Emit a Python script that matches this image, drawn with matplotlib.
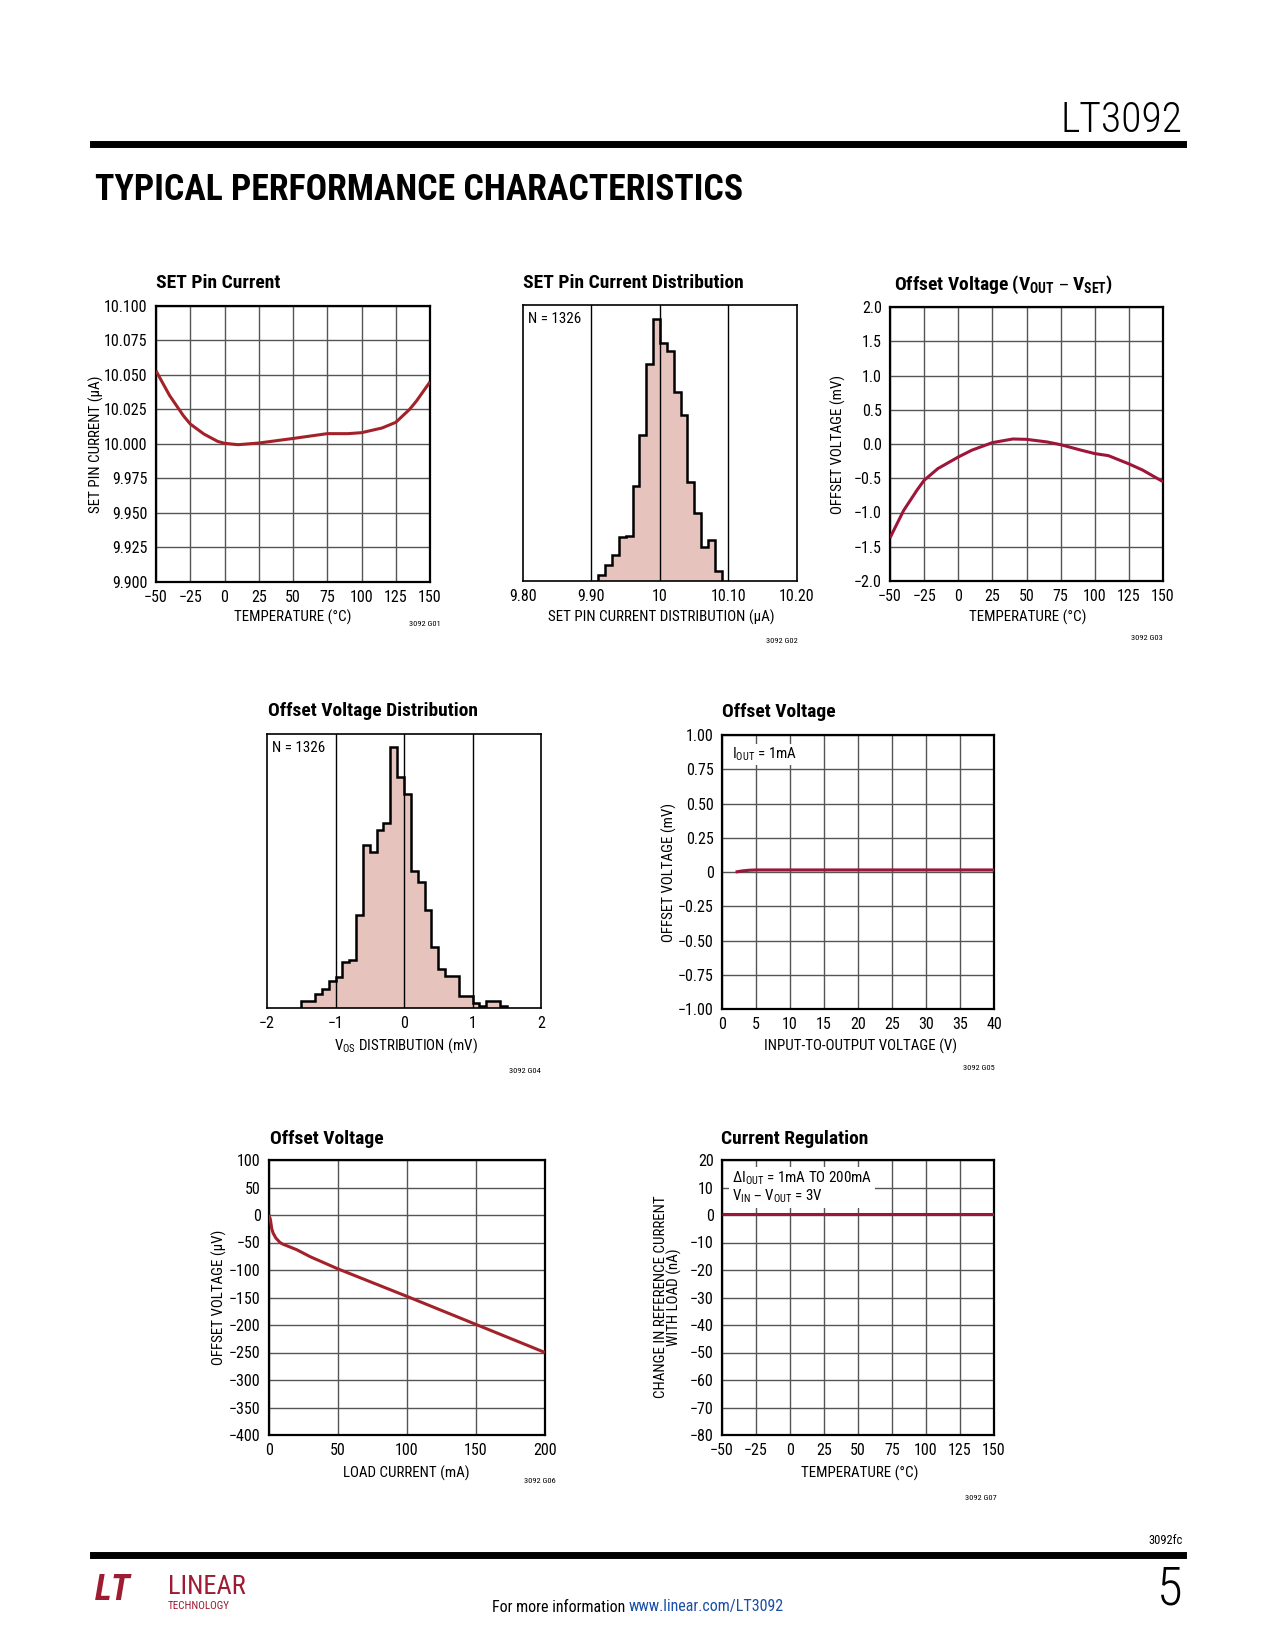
import numpy as np
import matplotlib
matplotlib.use('Agg')
import matplotlib.pyplot as plt
from matplotlib import font_manager

# the datasheet uses a condensed grotesque; take whichever narrow family is installed
installed = {f.name for f in font_manager.fontManager.ttflist}
narrow = [n for n in ['Liberation Sans Narrow', 'Roboto Condensed', 'DejaVu Sans Condensed',
                      'Noto Sans Condensed', 'Open Sans Condensed', 'Noto Sans Display Condensed']
          if n in installed]
SCALE = 1.0 if narrow else 0.88
plt.rcParams['font.family'] = narrow + ['Liberation Sans', 'DejaVu Sans']
plt.rcParams['mathtext.default'] = 'regular'

W, H = 1275, 1650

# ---- data ----
# G01 SET pin current vs temperature
g1_temp = [-50, -40, -30, -25, -15, -5, 0, 10, 25, 50, 75, 90, 100, 115, 125, 135, 140, 150]
g1_iset = [10.053, 10.035, 10.0205, 10.0145, 10.0072, 10.0019, 10.0005, 9.9995, 10.0007,
           10.004, 10.0075, 10.0075, 10.0082, 10.0116, 10.0157, 10.025, 10.031, 10.045]

# G02 SET pin current distribution (counts per 0.01uA bin)
g2_edges = [9.91, 9.92, 9.93, 9.94, 9.95, 9.96, 9.97, 9.98, 9.99, 10.00,
            10.01, 10.02, 10.03, 10.04, 10.05, 10.06, 10.07, 10.08, 10.09]
g2_counts = [4, 11, 18, 30, 31, 65, 100, 149, 180, 163, 158, 130, 114, 68, 47, 23, 28, 7]

# G03 offset voltage (VOUT - VSET) vs temperature
g3_temp = [-50, -40, -30, -25, -15, 0, 10, 25, 40, 50, 65, 75, 90, 100, 110, 125, 135, 150]
g3_vos = [-1.37, -0.97, -0.667, -0.53, -0.36, -0.19, -0.09, 0.02, 0.073, 0.068, 0.03,
          -0.01, -0.09, -0.14, -0.17, -0.29, -0.38, -0.55]

# G04 offset voltage distribution (counts per 0.1mV bin)
g4_edges = [-1.5, -1.4, -1.3, -1.2, -1.1, -1.0, -0.9, -0.8, -0.7, -0.6, -0.5, -0.4, -0.3,
            -0.2, -0.1, 0.0, 0.1, 0.2, 0.3, 0.4, 0.5, 0.6, 0.7, 0.8, 0.9, 1.0, 1.1, 1.2,
            1.3, 1.4, 1.5]
g4_counts = [4, 4, 8, 11, 16, 18, 27, 28, 55, 96, 92, 105, 109, 154, 136, 126, 81, 74, 58,
             36, 23, 19, 19, 7, 7, 3, 1, 4, 4, 1]

# G05 offset voltage vs input-to-output voltage
g5_vin = [2, 3, 4, 5, 10, 20, 30, 40]
g5_vos = [0.0, 0.008, 0.013, 0.015, 0.015, 0.015, 0.015, 0.015]

# G06 offset voltage vs load current
g6_load = [0, 1, 2, 3, 5, 8, 10, 15, 20, 30, 50, 100, 150, 200]
g6_vos = [0, -8, -25, -33, -42, -50, -53, -58, -63, -76, -98, -148, -199, -250]

# G07 change in reference current with load vs temperature
g7_temp = [-50, 0, 50, 100, 150]
g7_di = [0.5, 0.5, 0.5, 0.5, 0.5]

temp_ticks = [-50, -25, 0, 25, 50, 75, 100, 125, 150]

RED1 = '#a3222a'
RED2 = '#9d1538'
GRID = '#555555'
FILL = '#e6c3bd'

TICK = 11.5 * SCALE
LAB = 10.8 * SCALE
TTL = 14 * SCALE

fig = plt.figure(figsize=(W / 100, H / 100), dpi=100)


def box(l, t, r, b):
    return [l / W, 1 - b / H, (r - l) / W, (b - t) / H]


def ftext(x, y, s, **kw):
    return fig.text(x / W, 1 - y / H, s, **kw)


def line_chart(rect, x, y, color, xlim, xticks, ylim, yticks, ylabels=None):
    ax = fig.add_axes(box(*rect))
    ax.set_xlim(xlim)
    ax.set_ylim(ylim)
    ax.set_xticks(xticks)
    ax.set_yticks(yticks)
    if ylabels is not None:
        ax.set_yticklabels(ylabels)
    ax.grid(True, color=GRID, lw=1.0)
    ax.set_axisbelow(True)
    ax.tick_params(length=0, labelsize=TICK, pad=6)
    for s in ax.spines.values():
        s.set_linewidth(1.6)
    ax.plot(x, y, color=color, lw=2.2, solid_capstyle='butt', zorder=3)
    return ax


def hist_chart(rect, edges, counts, xlim, xticks, xlabels, vlines, ytop):
    ax = fig.add_axes(box(*rect))
    ax.stairs(counts, edges, fill=True, color=FILL, zorder=1)
    ax.stairs(counts, edges, color='black', lw=1.8, zorder=2)
    for v in vlines:
        ax.axvline(v, color='black', lw=1.0, zorder=3)
    ax.set_xlim(xlim)
    ax.set_ylim(0, ytop)
    ax.set_xticks(xticks)
    ax.set_xticklabels(xlabels)
    ax.set_yticks([])
    ax.tick_params(length=0, labelsize=TICK, pad=6)
    for s in ax.spines.values():
        s.set_linewidth(1.2)
    ax.text(0.02, 0.975, 'N = 1326', transform=ax.transAxes, ha='left', va='top',
            fontsize=LAB, zorder=4)
    return ax


# ---- G01 ----
ax1 = line_chart((156, 306, 430, 582), g1_temp, g1_iset, RED1, (-50, 150), temp_ticks,
                 (9.9, 10.1), np.arange(9.9, 10.1001, 0.025),
                 ['9.900', '9.925', '9.950', '9.975', '10.000', '10.025', '10.050', '10.075', '10.100'])
ftext(156, 283, 'SET Pin Current', fontsize=TTL, fontweight='bold', va='center')
ftext(293, 617, 'TEMPERATURE (°C)', fontsize=LAB, ha='center', va='center')
ftext(96, 444, 'SET PIN CURRENT (μA)', fontsize=LAB, ha='center', va='center', rotation=90)
ftext(425, 624, '3092 G01', fontsize=6, ha='center', va='center')

# ---- G02 ----
ax2 = hist_chart((523, 305, 797, 581), g2_edges, g2_counts, (9.8, 10.2),
                 [9.8, 9.9, 10.0, 10.1, 10.2], ['9.80', '9.90', '10', '10.10', '10.20'],
                 [9.9, 10.0, 10.1], 189.4)
ftext(523, 283, 'SET Pin Current Distribution', fontsize=TTL, fontweight='bold', va='center')
ftext(661, 617, 'SET PIN CURRENT DISTRIBUTION (μA)', fontsize=LAB, ha='center', va='center')
ftext(782, 641, '3092 G02', fontsize=6, ha='center', va='center')

# ---- G03 ----
ax3 = line_chart((890, 307, 1163, 581), g3_temp, g3_vos, RED2, (-50, 150), temp_ticks,
                 (-2, 2), np.arange(-2, 2.01, 0.5),
                 ['−2.0', '−1.5', '−1.0', '−0.5', '0.0', '0.5', '1.0', '1.5', '2.0'])
ftext(894, 285, 'Offset Voltage (V$_{OUT}$ – V$_{SET}$)', fontsize=TTL, fontweight='bold', va='center')
ftext(1028, 617, 'TEMPERATURE (°C)', fontsize=LAB, ha='center', va='center')
ftext(838, 444, 'OFFSET VOLTAGE (mV)', fontsize=LAB, ha='center', va='center', rotation=90)
ftext(1147, 638, '3092 G03', fontsize=6, ha='center', va='center')

# ---- G04 ----
ax4 = hist_chart((267, 734, 541, 1008), g4_edges, g4_counts, (-2, 2),
                 [-2, -1, 0, 1, 2], ['−2', '−1', '0', '1', '2'], [-1, 0, 1], 161.5)
ftext(268, 711, 'Offset Voltage Distribution', fontsize=TTL, fontweight='bold', va='center')
ftext(406, 1046, 'V$_{OS}$ DISTRIBUTION (mV)', fontsize=LAB, ha='center', va='center')
ftext(525, 1071, '3092 G04', fontsize=6, ha='center', va='center')

# ---- G05 ----
ax5 = line_chart((722, 735, 994, 1009), g5_vin, g5_vos, RED2, (0, 40), np.arange(0, 41, 5),
                 (-1, 1), np.arange(-1, 1.01, 0.25),
                 ['−1.00', '−0.75', '−0.50', '−0.25', '0', '0.25', '0.50', '0.75', '1.00'])
ax5.text(0.035, 0.96, 'I$_{OUT}$ = 1mA', transform=ax5.transAxes, ha='left', va='top',
         fontsize=LAB, zorder=4,
         bbox=dict(facecolor='white', edgecolor='none', pad=1.5))
ftext(722, 712, 'Offset Voltage', fontsize=TTL, fontweight='bold', va='center')
ftext(861, 1046, 'INPUT-TO-OUTPUT VOLTAGE (V)', fontsize=LAB, ha='center', va='center')
ftext(669, 872, 'OFFSET VOLTAGE (mV)', fontsize=LAB, ha='center', va='center', rotation=90)
ftext(979, 1068, '3092 G05', fontsize=6, ha='center', va='center')

# ---- G06 ----
ax6 = line_chart((269, 1160, 545, 1435), g6_load, g6_vos, RED1, (0, 200), np.arange(0, 201, 50),
                 (-400, 100), np.arange(-400, 101, 50))
ax6.set_yticklabels([('−' + str(-v)) if v < 0 else str(v) for v in range(-400, 101, 50)])
ftext(270, 1139, 'Offset Voltage', fontsize=TTL, fontweight='bold', va='center')
ftext(406, 1473, 'LOAD CURRENT (mA)', fontsize=LAB, ha='center', va='center')
ftext(219, 1297, 'OFFSET VOLTAGE (μV)', fontsize=LAB, ha='center', va='center', rotation=90)
ftext(540, 1481, '3092 G06', fontsize=6, ha='center', va='center')

# ---- G07 ----
ax7 = line_chart((722, 1160, 994, 1435), g7_temp, g7_di, RED2, (-50, 150), temp_ticks,
                 (-80, 20), np.arange(-80, 21, 10))
ax7.set_yticklabels([('−' + str(-v)) if v < 0 else str(v) for v in range(-80, 21, 10)])
ax7.text(0.035, 0.965, 'ΔI$_{OUT}$ = 1mA TO 200mA\nV$_{IN}$ – V$_{OUT}$ = 3V',
         transform=ax7.transAxes, ha='left', va='top', fontsize=LAB, zorder=4,
         linespacing=1.05, bbox=dict(facecolor='white', edgecolor='none', pad=2))
ftext(721, 1139, 'Current Regulation', fontsize=TTL, fontweight='bold', va='center')
ftext(860, 1473, 'TEMPERATURE (°C)', fontsize=LAB, ha='center', va='center')
ftext(668, 1297, 'CHANGE IN REFERENCE CURRENT\nWITH LOAD (nA)', fontsize=LAB, ha='center',
      va='center', rotation=90, linespacing=0.95)
ftext(981, 1498, '3092 G07', fontsize=6, ha='center', va='center')

# ---- page header / footer ----
ftext(1183, 121, 'LT3092', fontsize=30, fontweight='light', ha='right', va='center')
fig.add_artist(plt.Line2D([93 / W, 1183 / W], [1 - 144 / H, 1 - 144 / H], color='black', lw=5))
head = ftext(95, 190, 'TYPICAL PERFORMANCE CHARACTERISTICS', fontsize=26, fontweight='heavy',
             va='center')
# squeeze the section heading to the width it has on the page (~650 px)
r = fig.canvas.get_renderer()
wpx = head.get_window_extent(r).width
head.set_fontsize(26 * min(1.2, 650 / wpx))

ftext(1183, 1540, '3092fc', fontsize=9, ha='right', va='center')
fig.add_artist(plt.Line2D([93 / W, 1183 / W], [1 - 1555 / H, 1 - 1555 / H], color='black', lw=5))
ftext(1183, 1590, '5', fontsize=38, fontweight='light', ha='right', va='center')
ftext(629, 1607, 'For more information ', fontsize=11.5, ha='right', va='center')
ftext(629, 1607, 'www.linear.com/LT3092', fontsize=11.5, ha='left', va='center', color='#1a4fa8')
ftext(95, 1590, 'LT', fontsize=26, fontweight='bold', fontstyle='italic', color='#9e1b32', va='center')
ftext(168, 1587, 'LINEAR', fontsize=19, color='#9e1b32', va='center')
ftext(168, 1606, 'TECHNOLOGY', fontsize=8, color='#9e1b32', va='center')

fig.savefig('out.png', dpi=100)
